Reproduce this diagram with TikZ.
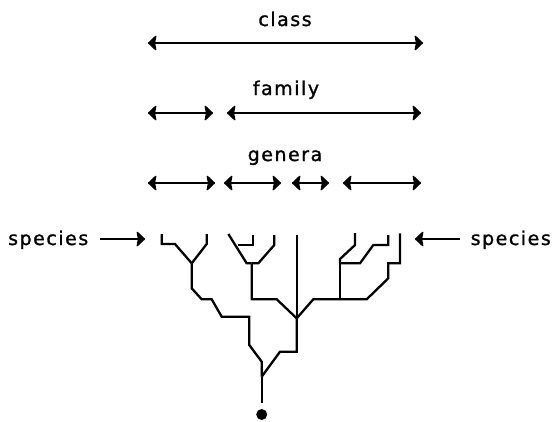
\documentclass[tikz,border=0pt]{standalone}
\usepackage{fontspec}
\setmainfont{DejaVu Sans}[LetterSpace=8,FakeBold=1.2]
\usetikzlibrary{arrows.meta}
\tikzset{hd/.tip={Stealth[length=9pt,width=17pt,inset=1.5pt,round]}}
\begin{document}
\begin{tikzpicture}[x=1pt,y=-1pt,
  rng/.style={line width=1.4pt,hd-hd},
  sarr/.style={line width=1.4pt,-hd},
  lbl/.style={font=\fontsize{19}{21}\selectfont,inner sep=0pt,anchor=base},
  br/.style={line width=2.3pt,line join=miter}]
\useasboundingbox (0,0) rectangle (554,421);
% level labels
\node[lbl] (tclass) at (285,26) {class};
\node[lbl] (tfam) at (286,95) {family};
\node[lbl] (tgen) at (285,161) {genera};
% range arrows
\coordinate (c1) at (148,43); \coordinate (c2) at (423,43);
\draw[rng] (c1) -- (c2);
\coordinate (f1) at (148,113); \coordinate (f2) at (213,113);
\coordinate (f3) at (227,113); \coordinate (f4) at (421,113);
\draw[rng] (f1) -- (f2);
\draw[rng] (f3) -- (f4);
\coordinate (g1) at (148,183); \coordinate (g2) at (215,183);
\coordinate (g3) at (224,183); \coordinate (g4) at (281,183);
\coordinate (g5) at (292,183); \coordinate (g6) at (329,183);
\coordinate (g7) at (343,183); \coordinate (g8) at (421,183);
\draw[rng] (g1) -- (g2);
\draw[rng] (g3) -- (g4);
\draw[rng] (g5) -- (g6);
\draw[rng] (g7) -- (g8);
% species labels
\node[lbl,anchor=base west] (spl) at (8,245) {species};
\node[lbl,anchor=base east] (spr) at (551,245) {species};
\coordinate (sl1) at (100,239); \coordinate (sl2) at (145,239);
\coordinate (sr1) at (460,239); \coordinate (sr2) at (415,239);
\draw[sarr] (sl1) -- (sl2);
\draw[sarr] (sr1) -- (sr2);
% tree
\coordinate (A) at (191.7,263.3);
\coordinate (R) at (261.7,376.7);
\coordinate (B) at (296.7,318.3);
\coordinate (C) at (251.7,263.3);
\coordinate (D) at (340,263.3);
\draw[br] (161.7,234) -- (161.7,244) -- (175,244) -- (A);
\draw[br] (206.7,234) -- (206.7,244) -- (A);
\draw[br] (A) -- (191.7,288.3) -- (201.7,299.3) -- (211.7,299.3) -- (221.7,316.7)
  -- (249.3,316.7) -- (249.3,345) -- (261.7,361.7) -- (R);
\draw[br] (R) -- (261.7,403);
\draw[br] (R) -- (280,351.7) -- (296.7,351.7) -- (B);
\draw[br] (B) -- (296.7,235);
\draw[br] (228.3,234) -- (246.7,263.3) -- (C);
\draw[br] (253.3,235) -- (253.3,245) -- (238.3,245);
\draw[br] (274.3,235) -- (274.3,245) -- (258.3,263.3) -- (C);
\draw[br] (C) -- (251.7,299.3) -- (276.7,299.3) -- (B);
\draw[br] (B) -- (313.3,299.3) -- (366.7,299.3) -- (388.3,278.3) -- (388.3,263.3)
  -- (400,263.3) -- (400,233.3);
\draw[br] (340,299.3) -- (D);
\draw[br] (355,233) -- (355,245) -- (340,259) -- (D);
\draw[br] (D) -- (360,263.3) -- (373.3,245) -- (388.3,245) -- (388.3,235);
\fill (261.7,414.5) circle (5.5pt);
\end{tikzpicture}
\end{document}
